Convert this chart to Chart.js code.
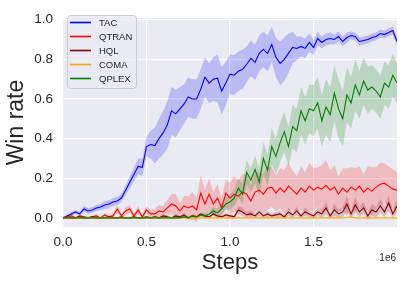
<!DOCTYPE html>
<html>
<head>
<meta charset="utf-8">
<script src="https://cdn.jsdelivr.net/npm/chart.js@4"></script>
<style>
  html, body { margin: 0; padding: 0; background: #ffffff; }
  #wrap { width: 403px; height: 282px; }
</style>
</head>
<body>
<div id="wrap"><canvas id="winChart" width="403" height="282"></canvas></div>
<script>
// Training steps (x values)
const steps = [0, 25000, 50000, 75000, 100000, 125000, 150000, 175000, 200000, 225000,
  250000, 275000, 300000, 325000, 350000, 375000, 400000, 425000, 450000, 475000,
  500000, 525000, 550000, 575000, 600000, 625000, 650000, 675000, 700000, 725000,
  750000, 775000, 800000, 825000, 850000, 875000, 900000, 925000, 950000, 975000,
  1000000, 1025000, 1050000, 1075000, 1100000, 1125000, 1150000, 1175000, 1200000, 1225000,
  1250000, 1275000, 1300000, 1325000, 1350000, 1375000, 1400000, 1425000, 1450000, 1475000,
  1500000, 1525000, 1550000, 1575000, 1600000, 1625000, 1650000, 1675000, 1700000, 1725000,
  1750000, 1775000, 1800000, 1825000, 1850000, 1875000, 1900000, 1925000, 1950000, 1975000,
  2000000];

// Win rate (mean) and half-width of the shaded band
const tacMean = [0.0, 0.01, 0.02, 0.03, 0.02, 0.045, 0.035, 0.04, 0.05, 0.055,
  0.065, 0.07, 0.08, 0.085, 0.1, 0.14, 0.18, 0.22, 0.26, 0.255,
  0.36, 0.37, 0.365, 0.4, 0.43, 0.47, 0.54, 0.525, 0.55, 0.575,
  0.61, 0.6, 0.6, 0.65, 0.71, 0.68, 0.7, 0.705, 0.64, 0.68,
  0.725, 0.72, 0.74, 0.75, 0.775, 0.805, 0.785, 0.83, 0.85, 0.83,
  0.875, 0.81, 0.78, 0.8, 0.83, 0.86, 0.855, 0.865, 0.855, 0.885,
  0.86, 0.905, 0.885, 0.9, 0.905, 0.9, 0.915, 0.89, 0.91, 0.92,
  0.915, 0.89, 0.895, 0.9, 0.91, 0.915, 0.93, 0.925, 0.935, 0.945,
  0.89];
const tacSpread = [0.005, 0.01, 0.01, 0.01, 0.01, 0.015, 0.015, 0.015, 0.015, 0.015,
  0.02, 0.02, 0.02, 0.02, 0.02, 0.025, 0.03, 0.035, 0.04, 0.045,
  0.05, 0.07, 0.09, 0.1, 0.11, 0.12, 0.12, 0.12, 0.11, 0.1,
  0.1, 0.1, 0.1, 0.1, 0.1, 0.1, 0.11, 0.12, 0.12, 0.11,
  0.1, 0.1, 0.1, 0.1, 0.09, 0.09, 0.09, 0.09, 0.09, 0.09,
  0.09, 0.1, 0.11, 0.11, 0.1, 0.08, 0.06, 0.05, 0.05, 0.045,
  0.04, 0.035, 0.03, 0.03, 0.03, 0.025, 0.025, 0.025, 0.025, 0.02,
  0.02, 0.02, 0.02, 0.02, 0.02, 0.02, 0.02, 0.02, 0.02, 0.02,
  0.02];

const qtranMean = [0.0, 0.005, 0.01, 0.0, 0.01, 0.005, 0.0, 0.005, 0.01, 0.0,
  0.015, 0.005, 0.01, 0.045, 0.01, 0.035, 0.045, 0.01, 0.04, 0.005,
  0.04, 0.02, 0.02, 0.035, 0.03, 0.05, 0.07, 0.06, 0.035, 0.06,
  0.05, 0.06, 0.04, 0.125, 0.07, 0.12, 0.07, 0.1, 0.05, 0.125,
  0.1, 0.12, 0.11, 0.13, 0.12, 0.085, 0.13, 0.14, 0.12, 0.15,
  0.155, 0.125, 0.15, 0.13, 0.16, 0.14, 0.12, 0.15, 0.13, 0.16,
  0.14, 0.155, 0.145, 0.165, 0.14, 0.155, 0.12, 0.15, 0.13, 0.155,
  0.14, 0.16, 0.13, 0.15, 0.135, 0.155, 0.17, 0.175, 0.16, 0.145,
  0.14];
const qtranSpread = [0.005, 0.005, 0.01, 0.005, 0.01, 0.005, 0.005, 0.005, 0.01, 0.005,
  0.01, 0.01, 0.01, 0.02, 0.01, 0.02, 0.02, 0.01, 0.02, 0.01,
  0.02, 0.02, 0.025, 0.03, 0.03, 0.04, 0.05, 0.06, 0.04, 0.05,
  0.06, 0.07, 0.06, 0.09, 0.07, 0.08, 0.06, 0.07, 0.05, 0.07,
  0.08, 0.09, 0.08, 0.09, 0.1, 0.08, 0.1, 0.09, 0.1, 0.11,
  0.1, 0.09, 0.1, 0.11, 0.12, 0.1, 0.09, 0.11, 0.1, 0.12,
  0.11, 0.1, 0.12, 0.13, 0.1, 0.11, 0.09, 0.1, 0.12, 0.1,
  0.11, 0.1, 0.09, 0.11, 0.12, 0.1, 0.11, 0.1, 0.1, 0.1,
  0.09];

const hqlMean = [0, 0, 0, 0, 0.005, 0, 0, 0.005, 0, 0,
  0, 0.005, 0, 0, 0.005, 0, 0, 0.005, 0, 0,
  0.005, 0.0, 0.005, 0.0, 0.01, 0.005, 0.0, 0.01, 0.005, 0.015,
  0.0, 0.01, 0.005, 0.02, 0.01, 0.005, 0.02, 0.01, 0.005, 0.015,
  0.01, 0.005, 0.04, 0.03, 0.015, 0.02, 0.01, 0.03, 0.01, 0.02,
  0.01, 0.015, 0.02, 0.005, 0.03, 0.015, 0.035, 0.01, 0.03, 0.02,
  0.01, 0.03, 0.02, 0.05, 0.01, 0.04, 0.02, 0.03, 0.07, 0.02,
  0.065, 0.03, 0.05, 0.01, 0.04, 0.03, 0.06, 0.03, 0.075, 0.02,
  0.06];
const hqlSpread = [0.003, 0.003, 0.003, 0.003, 0.005, 0.003, 0.003, 0.005, 0.003, 0.003,
  0.003, 0.005, 0.003, 0.003, 0.005, 0.003, 0.003, 0.005, 0.003, 0.003,
  0.005, 0.003, 0.005, 0.003, 0.01, 0.005, 0.003, 0.01, 0.005, 0.01,
  0.003, 0.01, 0.005, 0.01, 0.01, 0.005, 0.01, 0.01, 0.005, 0.01,
  0.01, 0.01, 0.02, 0.02, 0.015, 0.015, 0.01, 0.02, 0.01, 0.015,
  0.01, 0.015, 0.015, 0.01, 0.02, 0.015, 0.02, 0.01, 0.02, 0.015,
  0.015, 0.02, 0.02, 0.03, 0.015, 0.03, 0.02, 0.025, 0.04, 0.02,
  0.04, 0.025, 0.03, 0.02, 0.03, 0.025, 0.035, 0.025, 0.04, 0.02,
  0.035];

const comaMean = [0, 0, 0, 0, 0, 0, 0, 0, 0, 0,
  0, 0, 0, 0, 0, 0, 0, 0, 0, 0,
  0, 0, 0, 0, 0, 0, 0, 0, 0, 0,
  0, 0, 0, 0, 0, 0, 0, 0, 0, 0,
  0, 0, 0, 0, 0, 0, 0, 0, 0, 0,
  0, 0, 0, 0, 0, 0, 0, 0, 0, 0,
  0, 0, 0, 0, 0, 0, 0, 0, 0.002, 0.005,
  0, 0, 0, 0, 0, 0, 0, 0, 0, 0,
  0];
const comaSpread = [0, 0, 0, 0, 0, 0, 0, 0, 0, 0,
  0, 0, 0, 0, 0, 0, 0, 0, 0, 0,
  0, 0, 0, 0, 0, 0, 0, 0, 0, 0,
  0, 0, 0, 0, 0, 0, 0, 0, 0, 0,
  0, 0, 0, 0, 0, 0, 0, 0, 0, 0,
  0, 0, 0, 0, 0, 0, 0, 0, 0, 0,
  0, 0, 0, 0, 0, 0, 0, 0, 0.002, 0.004,
  0, 0, 0, 0, 0, 0, 0, 0, 0, 0,
  0];

const qplexMean = [0, 0, 0, 0, 0, 0, 0, 0, 0, 0,
  0, 0, 0, 0, 0, 0, 0, 0, 0, 0,
  0, 0, 0, 0, 0, 0, 0, 0, 0.0, 0.005,
  0.0, 0.01, 0.005, 0.015, 0.01, 0.02, 0.035, 0.025, 0.045, 0.07,
  0.08, 0.1, 0.15, 0.12, 0.23, 0.19, 0.245, 0.18, 0.3, 0.24,
  0.36, 0.31, 0.38, 0.435, 0.36, 0.46, 0.44, 0.54, 0.49, 0.55,
  0.54, 0.58, 0.49, 0.56, 0.52, 0.63, 0.55, 0.5, 0.62, 0.58,
  0.67, 0.62, 0.69, 0.645, 0.66, 0.64, 0.61, 0.68, 0.66, 0.72,
  0.68];
const qplexSpread = [0.002, 0.002, 0.002, 0.002, 0.002, 0.002, 0.002, 0.002, 0.002, 0.002,
  0.002, 0.002, 0.002, 0.002, 0.002, 0.002, 0.002, 0.002, 0.002, 0.002,
  0.002, 0.002, 0.002, 0.002, 0.002, 0.002, 0.002, 0.002, 0.003, 0.005,
  0.005, 0.008, 0.008, 0.01, 0.01, 0.015, 0.02, 0.02, 0.025, 0.03,
  0.04, 0.04, 0.05, 0.05, 0.06, 0.06, 0.07, 0.07, 0.08, 0.08,
  0.09, 0.09, 0.1, 0.1, 0.1, 0.11, 0.11, 0.12, 0.12, 0.12,
  0.13, 0.13, 0.13, 0.14, 0.14, 0.14, 0.15, 0.14, 0.14, 0.13,
  0.13, 0.12, 0.12, 0.12, 0.11, 0.11, 0.11, 0.11, 0.11, 0.11,
  0.1];

// Tick labels
const xTicks = [0, 500000, 1000000, 1500000];
const yTicks = [0, 0.2, 0.4, 0.6, 0.8, 1.0];

const series = [
  { label: 'TAC', color: '#0000ff', band: 'rgba(0, 0, 255, 0.2)', mean: tacMean, spread: tacSpread },
  { label: 'QTRAN', color: '#ff0000', band: 'rgba(255, 0, 0, 0.2)', mean: qtranMean, spread: qtranSpread },
  { label: 'HQL', color: '#8b0000', band: 'rgba(139, 0, 0, 0.2)', mean: hqlMean, spread: hqlSpread },
  { label: 'COMA', color: '#ffa500', band: 'rgba(255, 165, 0, 0.2)', mean: comaMean, spread: comaSpread },
  { label: 'QPLEX', color: '#008000', band: 'rgba(0, 128, 0, 0.2)', mean: qplexMean, spread: qplexSpread }
];

const textColor = '#262626';
const fontFamily = '"Liberation Sans", Arial, sans-serif';

// bands first (lower edge + upper edge filled to it), then the mean lines
const datasets = [];
series.forEach((s, i) => {
  const lo = datasets.length;
  datasets.push({
    label: s.label + ' low',
    data: steps.map((x, k) => ({ x: x, y: s.mean[k] - s.spread[k] })),
    borderWidth: 0, pointRadius: 0, fill: false, order: 30 - i
  });
  datasets.push({
    label: s.label + ' high',
    data: steps.map((x, k) => ({ x: x, y: s.mean[k] + s.spread[k] })),
    borderWidth: 0, pointRadius: 0, backgroundColor: s.band,
    fill: { target: lo }, order: 30 - i
  });
});
series.forEach((s, i) => {
  datasets.push({
    label: s.label,
    data: steps.map((x, k) => ({ x: x, y: s.mean[k] })),
    borderColor: s.color, borderWidth: 1.1, pointRadius: 0, fill: false,
    tension: 0, order: 10 - i
  });
});

// gray plot background like seaborn darkgrid
const plotBackground = {
  id: 'plotBackground',
  beforeDraw(chart) {
    const a = chart.chartArea;
    const ctx = chart.ctx;
    ctx.save();
    ctx.fillStyle = '#eaeaf2';
    ctx.fillRect(a.left, a.top, a.right - a.left, a.bottom - a.top);
    ctx.restore();
  }
};

// legend box in the upper left + offset text of the x axis
const legendBox = {
  id: 'legendBox',
  afterDraw(chart) {
    const ctx = chart.ctx;
    ctx.save();
    ctx.beginPath();
    ctx.roundRect(67.5, 15.5, 69, 73, 3);
    ctx.fillStyle = 'rgba(234, 234, 242, 0.8)';
    ctx.fill();
    ctx.strokeStyle = '#cccccc';
    ctx.lineWidth = 1;
    ctx.stroke();
    ctx.font = '9.5px ' + fontFamily;
    ctx.textBaseline = 'middle';
    series.forEach((s, i) => {
      const y = 22.5 + i * 14;
      ctx.beginPath();
      ctx.moveTo(70, y);
      ctx.lineTo(91, y);
      ctx.strokeStyle = s.color;
      ctx.lineWidth = 1.6;
      ctx.stroke();
      ctx.fillStyle = textColor;
      ctx.fillText(s.label, 99, y + 0.5);
    });
    ctx.font = '10px ' + fontFamily;
    ctx.textAlign = 'right';
    ctx.fillText('1e6', 396, 258);
    ctx.restore();
  }
};

const ctx = document.getElementById('winChart').getContext('2d');
new Chart(ctx, {
  type: 'line',
  data: { datasets: datasets },
  plugins: [plotBackground, legendBox],
  options: {
    responsive: false,
    animation: false,
    layout: { padding: { left: 0, right: 6, top: 12, bottom: 0 } },
    plugins: {
      legend: { display: false },
      tooltip: { enabled: false }
    },
    scales: {
      x: {
        type: 'linear',
        min: 0,
        max: 2000000,
        afterFit: function(scale) { scale.height = 55; },
        afterBuildTicks: function(scale) {
          scale.ticks = xTicks.map(v => ({ value: v }));
        },
        grid: { color: '#ffffff', lineWidth: 1.2, drawTicks: false },
        border: { display: false },
        ticks: {
          padding: 7,
          color: textColor,
          font: { family: fontFamily, size: 13.5 },
          maxRotation: 0,
          callback: function(value) { return (value / 1e6).toFixed(1); }
        },
        title: {
          display: true,
          text: 'Steps',
          color: textColor,
          font: { family: fontFamily, size: 22 },
          padding: { top: 0, bottom: 6 }
        }
      },
      y: {
        min: -0.046,
        max: 1.008,
        afterFit: function(scale) { scale.width = 63; },
        afterBuildTicks: function(scale) {
          scale.ticks = yTicks.map(v => ({ value: v }));
        },
        grid: { color: '#ffffff', lineWidth: 1.2, drawTicks: false },
        border: { display: false },
        ticks: {
          padding: 10,
          color: textColor,
          font: { family: fontFamily, size: 13.5 },
          callback: function(value) { return value.toFixed(1); }
        },
        title: {
          display: true,
          text: 'Win rate',
          color: textColor,
          font: { family: fontFamily, size: 23 },
          padding: { top: 3, bottom: 0 }
        }
      }
    }
  }
});
</script>
</body>
</html>
